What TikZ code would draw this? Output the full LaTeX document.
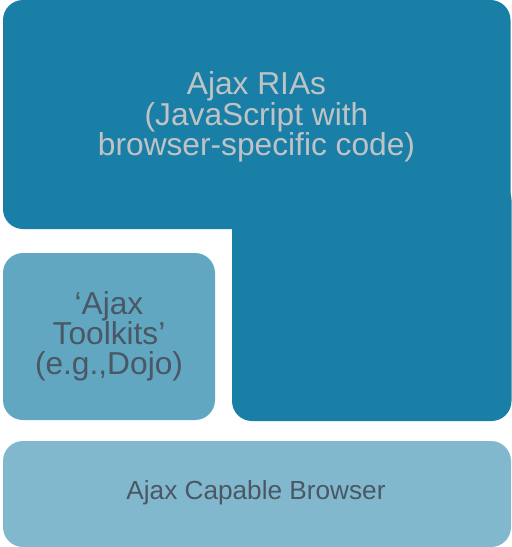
\documentclass[tikz,border=0pt]{standalone}
\usepackage{fontspec}
\setmainfont{Liberation Sans}
\definecolor{darkblue}{HTML}{1A7FA6}
\definecolor{midblue}{HTML}{62A7C2}
\definecolor{lightblue}{HTML}{82B8CD}
\definecolor{lighttext}{HTML}{BFC3C5}
\definecolor{darktext}{HTML}{4A5764}
\tikzset{
  boxshape/.style={rounded corners=20pt},
  label/.style={inner sep=0pt, align=center, anchor=center}
}
\begin{document}
\begin{tikzpicture}[x=1pt,y=-1pt]
\fill[white] (0,0) rectangle (512,547);
\useasboundingbox (0,0) rectangle (512,547);
% top L-shape
\fill[darkblue, boxshape] (3,0) rectangle (510.5,229);
\fill[darkblue, boxshape] (232,180) rectangle (511.5,421);
% middle box
\fill[midblue, boxshape] (3,253) rectangle (215,420);
% bottom box
\fill[lightblue, boxshape] (3,441) rectangle (511,547);
% texts
\node[label, text=lighttext, font=\fontsize{31.7}{29}\selectfont] (ria) at (256.5,117)
  {Ajax RIAs\\(JavaScript with\\browser-specific code)};
\node[label, text=darktext, font=\fontsize{31.7}{30}\selectfont] (tk) at (109,336)
  {‘Ajax\\Toolkits’\\(e.g.,Dojo)};
\node[label, text=darktext, font=\fontsize{26.2}{28}\selectfont] (br) at (256,493)
  {Ajax Capable Browser};
\end{tikzpicture}
\end{document}
